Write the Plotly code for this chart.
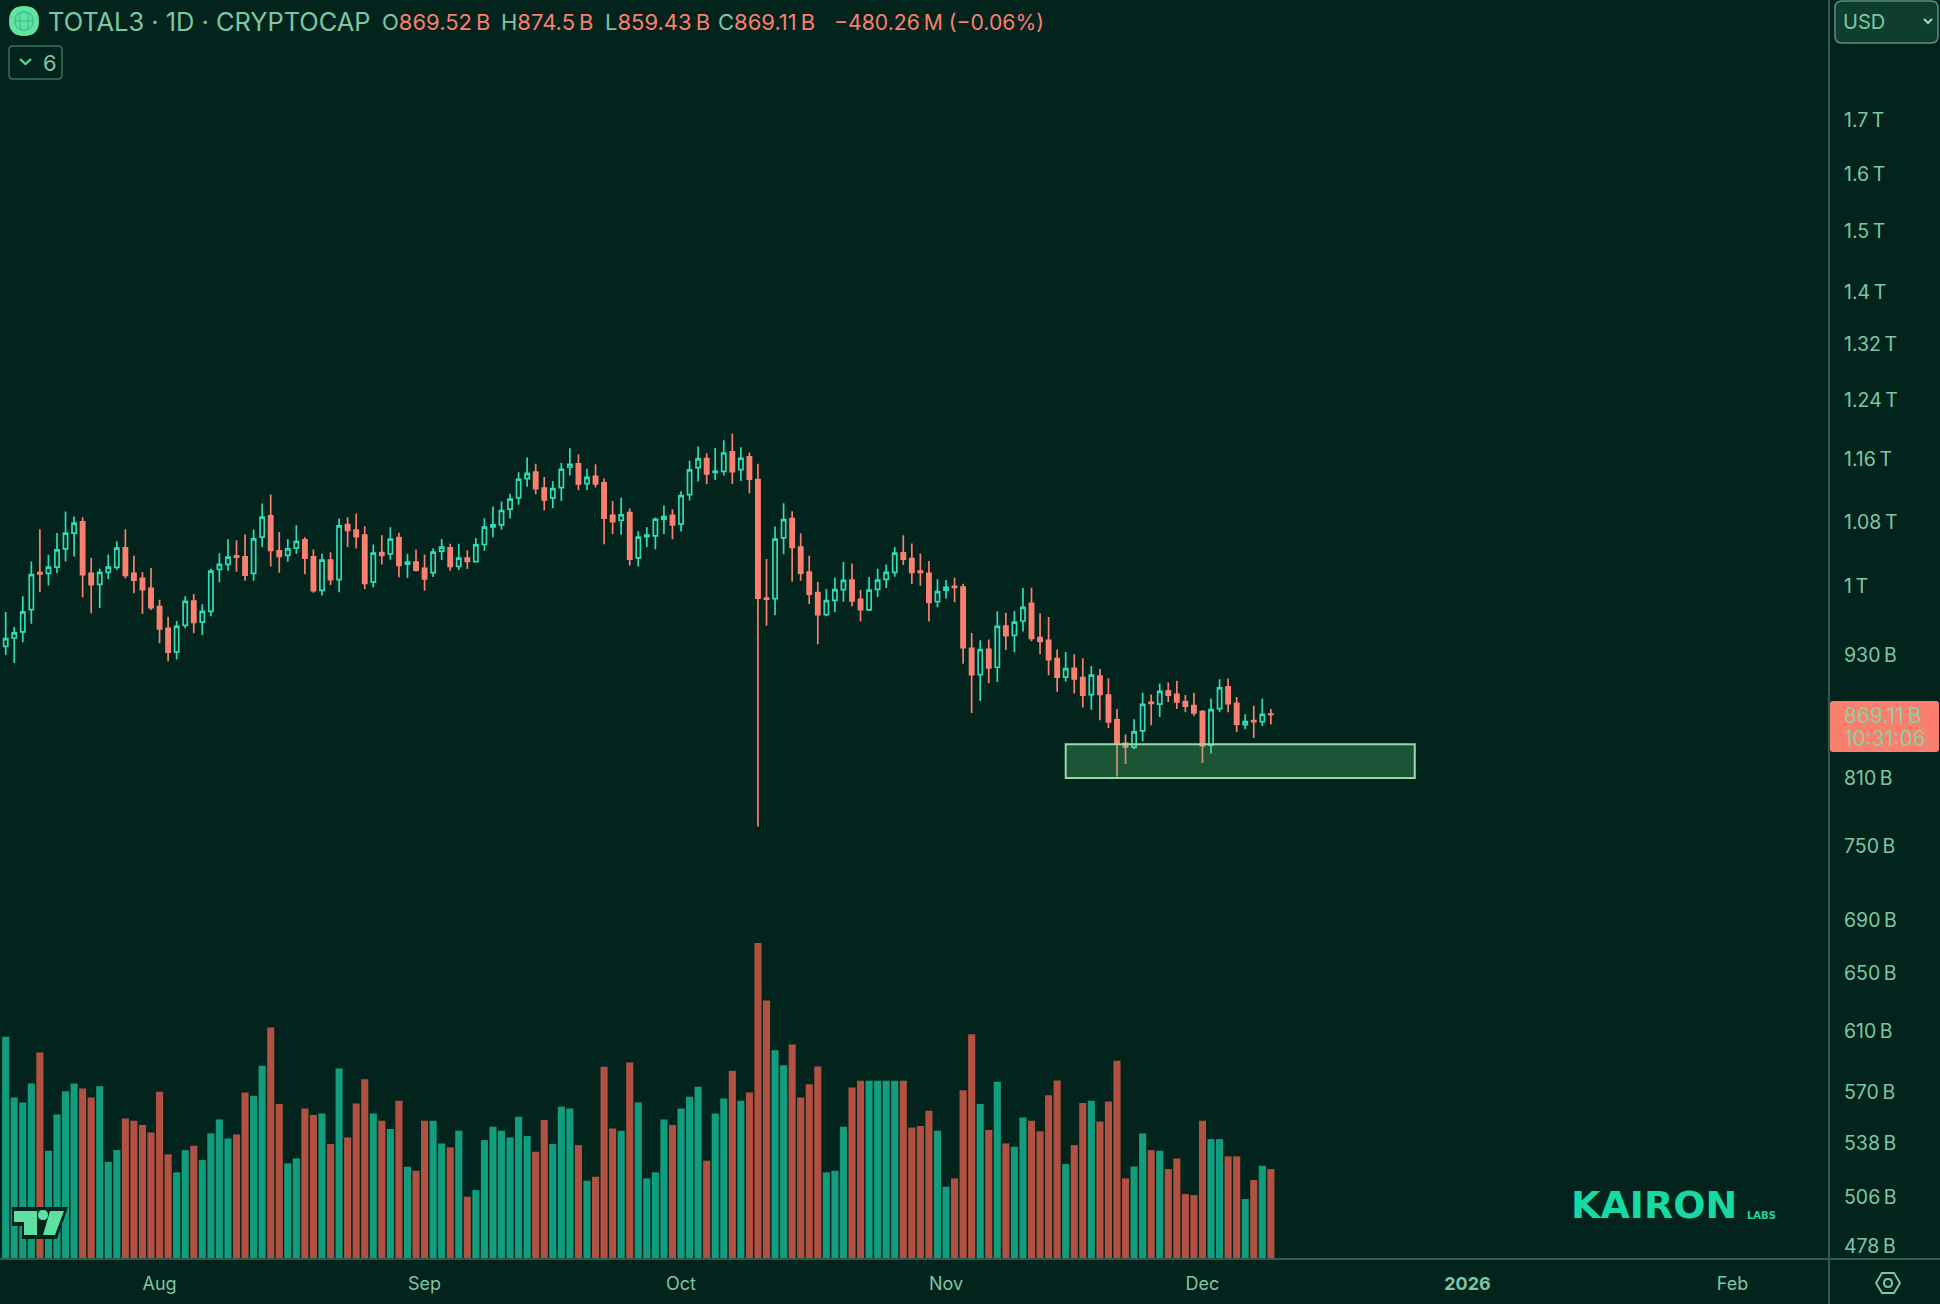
import pandas as pd
import plotly.graph_objects as go

# daily candles in billions USD
start_date = "2025-07-14"
open_b = [
    938.5, 947.3, 953.8, 978, 1019.6, 1018.8, 1026.1, 1047.4, 1066.1, 1079.7,
    1018.8, 1006.3, 1020, 1025.7, 1048.6, 1018.8, 1013.1, 1001.8, 981.4, 957.7,
    932.6, 960.9, 987.6, 964.5, 976.2, 1023.4, 1029.2, 1039.2, 1038, 1018.8,
    1061.2, 1087, 1045.1, 1039.6, 1048.2, 1058, 1038, 999.5, 1034.2, 1011.6,
    1076.5, 1069.7, 1063.6, 1008.9, 1043.1, 1041.5, 1060.8, 1029.6, 1031.9, 1024.5,
    1019.6, 1044.7, 1048.6, 1026.9, 1036.5, 1032.3, 1052.5, 1073.7, 1076.1, 1095.2,
    1109.3, 1133.6, 1142.1, 1121.7, 1109.3, 1122.2, 1148.2, 1152.6, 1127.2, 1136.6,
    1128.1, 1087.8, 1081.7, 1091.1, 1036.9, 1062, 1062.8, 1082.9, 1087.8, 1076.9,
    1113.4, 1147.7, 1159.4, 1141.7, 1143, 1168.2, 1145.1, 1161.6, 1132.4, 990.9,
    990.2, 1060.4, 1083.7, 1049.5, 1020.3, 996.9, 972.6, 988.3, 1000.3, 1011.2,
    989.5, 977.7, 1000.7, 1012, 1020, 1042.7, 1035.8, 1021.5, 1018.8, 986.9,
    999.9, 1004, 1003.3, 936.4, 909.1, 935.2, 916.6, 960.2, 950.2, 965.6,
    985, 947.7, 944.9, 925.6, 906.4, 915.6, 906.1, 888.7, 907.4, 888.3,
    863.8, 841.2, 837.7, 853.2, 881, 879.4, 892.5, 889, 881.7, 877.8,
    871.9, 839.6, 874.8, 896.6, 880, 859.3, 863.1, 862.2, 869.52,
]
high_b = [
    975.5, 959.1, 992.8, 1032.7, 1070.9, 1040.4, 1066.1, 1092.4, 1086.2, 1085.4,
    1036.9, 1024.2, 1040.8, 1056.5, 1070.9, 1039.2, 1020.3, 1024.9, 989.1, 970.3,
    965.6, 992.8, 995.4, 983.9, 1024.2, 1042.3, 1058.8, 1057.7, 1064.5, 1070.5,
    1102.2, 1113.4, 1067.3, 1058.8, 1075.7, 1061.2, 1046.6, 1041.5, 1043.5, 1083.7,
    1085.4, 1089.9, 1074.5, 1052.5, 1063.6, 1073.3, 1066.5, 1041.5, 1046.6, 1040.8,
    1048.2, 1059.2, 1053.3, 1053.3, 1045.8, 1060.4, 1084.2, 1098.5, 1104.7, 1114.3,
    1141.7, 1160.8, 1152.6, 1135.8, 1130.2, 1153.8, 1173, 1165.1, 1146.4, 1152.1,
    1133.6, 1105.5, 1109.3, 1096, 1068.5, 1073.3, 1085, 1099.7, 1095.2, 1117.6,
    1156.9, 1175.3, 1166.4, 1173.4, 1183.7, 1192.6, 1174.5, 1167.3, 1152.6, 1035.4,
    1074.1, 1102.6, 1092.8, 1065.7, 1039.2, 1008.9, 1001, 1013.9, 1031.9, 1030.3,
    999.9, 1014.6, 1024.2, 1029.2, 1049.5, 1063.6, 1053.7, 1041.9, 1033.1, 1012,
    1011.2, 1013.9, 1007, 952.7, 944.9, 945.6, 976.2, 974.7, 976.6, 1002.1,
    1002.5, 974, 970, 935.2, 932.6, 930.1, 926, 918, 914.9, 905.4,
    874.5, 849.7, 864.4, 890.7, 889, 899.9, 901, 902.7, 888.3, 890.7,
    873.5, 884.9, 904.4, 905.1, 886.5, 869.3, 877.8, 884.9, 874.5,
]
low_b = [
    929.4, 921.1, 942.8, 962.7, 997.3, 1005.1, 1019.2, 1032.7, 1038.4, 991.7,
    974, 979.9, 1012, 1023, 1013.1, 996.2, 973.3, 977.7, 941.7, 922.9,
    924.6, 957.7, 952.3, 950.5, 970.7, 1008.6, 1021.9, 1020.7, 1010.5, 1010.5,
    1049.5, 1026.9, 1019.6, 1032.3, 1041.5, 1017.7, 996.9, 993.9, 1005.5, 997.3,
    1049.5, 1047.8, 1000.7, 1002.9, 1029.2, 1034.6, 1014.3, 1013.5, 1021.1, 999.2,
    1014.6, 1034.2, 1021.9, 1022.6, 1023.8, 1031.5, 1045.2, 1061.2, 1070.1, 1083.7,
    1100.6, 1123.4, 1113.8, 1093.6, 1096.4, 1105.5, 1137.5, 1118.8, 1118.8, 1122.2,
    1052.9, 1064.9, 1064, 1028, 1026.9, 1049.5, 1047, 1064.9, 1058.8, 1068.1,
    1105.9, 1129.8, 1126.4, 1131.9, 1137.5, 1126.8, 1130.6, 1115, 766, 960.6,
    971.8, 1041.1, 1009.3, 1010.5, 984.3, 940.6, 970.7, 975.1, 986.9, 981.7,
    965.2, 976.6, 992.1, 1002.1, 1015, 1028.4, 1006.7, 1004.8, 965.2, 980.7,
    990.5, 986.1, 920.1, 870.6, 882.4, 900.3, 901.4, 934.7, 932.2, 954.2,
    943.8, 930.1, 908.5, 891.7, 902.1, 890, 876.1, 873.8, 863.4, 856.1,
    810.4, 822, 835.8, 843.4, 858.6, 866.7, 881.4, 874.5, 871.3, 867.7,
    822.9, 831.8, 871.6, 871.3, 852.2, 854.8, 846.5, 858, 859.43,
]
close_b = [
    946.6, 952.7, 975.5, 1017.3, 1018.1, 1026.1, 1046.2, 1066.1, 1078.1, 1017.3,
    1005.9, 1020, 1026.1, 1048.2, 1016.5, 1011.2, 1000.3, 980.3, 957, 932.2,
    959.8, 987.3, 964.1, 976.2, 1021.5, 1029.2, 1037.7, 1037.7, 1016.9, 1059.2,
    1085.4, 1045.5, 1038.4, 1047.4, 1056.1, 1036.5, 999.2, 1034.2, 1011.6, 1074.9,
    1069.3, 1062, 1007.4, 1042.3, 1039.6, 1058.8, 1028, 1031.9, 1022.6, 1012.4,
    1043.5, 1049.4, 1026.9, 1036.5, 1032.7, 1052.1, 1073.3, 1076.1, 1093.6, 1107.6,
    1132.8, 1140.4, 1120.9, 1106.8, 1120.9, 1145.6, 1152.1, 1126.8, 1135.3, 1126.8,
    1084.2, 1080.1, 1088.2, 1035.4, 1061.2, 1063.6, 1082.9, 1086.2, 1076.1, 1112.2,
    1144.7, 1159, 1139.6, 1143, 1166.8, 1142.6, 1159.9, 1132.8, 990.9, 989.8,
    1058.8, 1082.5, 1049, 1019.2, 995.4, 972.6, 988, 1000.3, 1010.8, 987.6,
    978, 999.9, 1011.2, 1020, 1042.3, 1035.4, 1020, 1020, 986.1, 998,
    1002.9, 1002.9, 937.1, 909.1, 934.9, 915.9, 959.8, 949.8, 964.5, 980.6,
    947, 943.8, 924.6, 906.4, 915.2, 904.7, 888.3, 908.5, 889, 861.8,
    840.6, 838, 852.2, 879, 880, 892.1, 888.3, 881.4, 877.4, 870.6,
    839, 873.8, 895.6, 879.7, 859.6, 862.2, 862.2, 869.3, 869.11,
]
volume_b = [
    66.7, 48.5, 47.0, 52.7, 62.0, 32.5, 43.4, 50.4, 52.7, 51.2,
    48.5, 51.9, 29.2, 32.7, 42.2, 41.5, 40.2, 38.0, 50.2, 31.4,
    26.0, 32.7, 34.0, 29.7, 37.7, 41.9, 36.2, 37.4, 50.0, 49.0,
    58.0, 69.5, 46.5, 28.7, 30.2, 45.2, 43.2, 43.7, 34.5, 57.2,
    36.5, 46.7, 54.0, 43.7, 41.5, 39.0, 47.5, 27.7, 26.5, 41.5,
    41.5, 34.7, 33.5, 38.5, 18.7, 20.7, 35.7, 39.7, 38.5, 36.5,
    42.7, 36.9, 32.2, 41.7, 34.5, 45.7, 45.2, 34.2, 23.5, 24.7,
    57.7, 39.2, 38.5, 59.0, 47.0, 24.2, 26.0, 41.9, 40.2, 45.2,
    48.7, 51.7, 29.5, 43.7, 48.2, 56.5, 47.5, 50.0, 94.9, 77.6,
    62.7, 58.2, 64.4, 48.5, 52.5, 57.8, 26.0, 26.5, 39.7, 51.5,
    53.5, 53.5, 53.5, 53.5, 53.5, 53.5, 39.5, 39.9, 44.5, 38.5,
    21.7, 24.2, 50.7, 67.5, 46.5, 38.7, 53.2, 34.7, 33.7, 42.5,
    41.5, 38.3, 49.2, 53.6, 28.5, 34.2, 46.8, 47.5, 41.3, 47.3,
    59.5, 24.2, 27.8, 37.7, 32.7, 32.5, 27.0, 30.2, 19.5, 19.2,
    41.5, 36.0, 36.0, 30.8, 30.8, 18.0, 23.7, 28.0, 27.0,
]

price_tick_vals = [1700, 1600, 1500, 1400, 1320, 1240, 1160, 1080, 1005, 930,
                   810, 750, 690, 650, 609, 568.5, 537, 505, 478]
price_tick_text = ["1.7\u2009T", "1.6\u2009T", "1.5\u2009T", "1.4\u2009T", "1.32\u2009T", "1.24\u2009T",
                   "1.16\u2009T", "1.08\u2009T", "1\u2009T", "930\u2009B", "810\u2009B", "750\u2009B",
                   "690\u2009B", "650\u2009B", "610\u2009B", "570\u2009B", "538\u2009B", "506\u2009B",
                   "478\u2009B"]
month_tick_vals = ["2025-08-01", "2025-09-01", "2025-10-01", "2025-11-01",
                   "2025-12-01", "2026-01-01", "2026-02-01"]
month_tick_text = ["Aug", "Sep", "Oct", "Nov", "Dec", "<b>2026</b>", "Feb"]

# support zone drawn on the chart
zone_dates = ["2025-11-15", "2025-12-25 20:00"]
zone_prices = [809.2, 840.4]

BG = "#02241c"
UP = "#2fdcb6"
DOWN = "#fb7f6f"
VOL_UP = "#129e7e"
VOL_DOWN = "#b25141"
LABEL = "#7fc6a4"
RULE = "#2f5a50"
LOGO = "#17d9a3"
FONT = "Inter, Roboto, sans-serif"

PLOT_W = 1829
PLOT_H = 1259


def px(x):
    return x / PLOT_W


def py(y):
    return 1 - y / PLOT_H


def rect_path(x0, y0, x1, y1, r):
    return (
        f"M {px(x0 + r)} {py(y0)} L {px(x1 - r)} {py(y0)} Q {px(x1)} {py(y0)} {px(x1)} {py(y0 + r)} "
        f"L {px(x1)} {py(y1 - r)} Q {px(x1)} {py(y1)} {px(x1 - r)} {py(y1)} "
        f"L {px(x0 + r)} {py(y1)} Q {px(x0)} {py(y1)} {px(x0)} {py(y1 - r)} "
        f"L {px(x0)} {py(y0 + r)} Q {px(x0)} {py(y0)} {px(x0 + r)} {py(y0)} Z"
    )


def poly_path(points, closed=True):
    return "M " + " L ".join(f"{px(x)} {py(y)}" for x, y in points) + (" Z" if closed else "")


def paper_path(path, fill="rgba(0,0,0,0)", line="rgba(0,0,0,0)", width=1):
    return dict(type="path", xref="paper", yref="paper", path=path, fillcolor=fill,
                line=dict(color=line, width=width), layer="above")


def paper_text(x, y, text, size, color=LABEL, family=FONT, weight=None):
    return dict(xref="paper", yref="paper", x=px(x), y=py(y), text=text, showarrow=False,
                xanchor="left", yanchor="middle", align="left",
                font=dict(family=family, size=size, color=color, weight=weight))


def ohlc_text(letter, value):
    return f"{letter}<span style='color:{DOWN}'>{value}</span>"


dates = pd.date_range(start_date, periods=len(open_b), freq="D")
vol_colors = [VOL_UP if c >= o else VOL_DOWN for o, c in zip(open_b, close_b)]

fig = go.Figure()
fig.add_trace(go.Bar(x=dates, y=volume_b, yaxis="y2", marker_color=vol_colors,
                     marker_line_width=0, showlegend=False))
fig.add_trace(go.Candlestick(
    x=dates, open=open_b, high=high_b, low=low_b, close=close_b, showlegend=False,
    whiskerwidth=0,
    increasing=dict(line=dict(color=UP, width=1.7), fillcolor=BG),
    decreasing=dict(line=dict(color=DOWN, width=1.7), fillcolor=DOWN),
))

shapes = [
    dict(type="rect", xref="x", yref="y", x0=zone_dates[0], x1=zone_dates[1],
         y0=zone_prices[0], y1=zone_prices[1], fillcolor="rgba(88,200,117,0.3)",
         line=dict(color="#9bd8a8", width=2), layer="above"),
    # scale borders
    dict(type="line", xref="paper", yref="paper", x0=1, x1=1, y0=py(1304), y1=1,
         line=dict(color=RULE, width=2), layer="above"),
    dict(type="line", xref="paper", yref="paper", x0=0, x1=px(1940), y0=0, y1=0,
         line=dict(color=RULE, width=2), layer="above"),
    # symbol icon with its globe lines
    paper_path(rect_path(9, 6, 39, 36, 15), fill="#62e49f"),
    paper_path(rect_path(15, 12, 33, 30, 9), line="#3fc49a", width=1.5),
    paper_path(rect_path(20, 12, 28, 30, 4), line="#3fc49a", width=1.5),
    paper_path(poly_path([(15, 21), (33, 21)], closed=False), line="#3fc49a", width=1.5),
    # collapse button
    paper_path(rect_path(9, 46, 62, 79, 4), line="#3f6d5e", width=1.5),
    paper_path(poly_path([(20, 59), (25.5, 64), (31, 59)], closed=False), line="#62dca0", width=2.2),
    # currency button
    paper_path(rect_path(1835, 1, 1938, 43, 7), fill="#0f3d30", line="#5f8f7c", width=1.5),
    paper_path(poly_path([(1924, 19), (1928, 23), (1932, 19)], closed=False), line="#8fe0b0", width=2.2),
    # last price tag
    paper_path(rect_path(1830, 701, 1939, 752, 3), fill=DOWN),
    # settings hexagon
    paper_path(poly_path([(1876, 1283), (1882, 1273), (1894, 1273), (1900, 1283), (1894, 1293), (1882, 1293)]),
               line=LABEL, width=2),
    paper_path(rect_path(1884, 1279, 1892, 1287, 4), line=LABEL, width=2),
    # TradingView mark
    paper_path(poly_path([(12, 1207), (68, 1207), (57, 1239), (22, 1239), (22, 1226), (12, 1226)]), fill=BG),
    paper_path(poly_path([(14, 1211), (37, 1211), (37, 1235), (24, 1235), (24, 1222), (14, 1222)]), fill="#5fe0a0"),
    paper_path(rect_path(38, 1210, 48, 1220, 5), fill="#5fe0a0"),
    paper_path(poly_path([(50, 1211), (64, 1211), (55, 1235), (43, 1235)]), fill="#5fe0a0"),
]

annotations = [
    paper_text(46, 22, "TOTAL3 · 1D · CRYPTOCAP", 25.4),
    paper_text(380, 22, ohlc_text("O", "869.52\u2009B"), 22),
    paper_text(499, 22, ohlc_text("H", "874.5\u2009B"), 22),
    paper_text(603, 22, ohlc_text("L", "859.43\u2009B"), 22),
    paper_text(716, 22, ohlc_text("C", "869.11\u2009B"), 22),
    paper_text(832, 22, "−480.26\u2009M (−0.06%)", 21.2, color=DOWN),
    paper_text(41, 63, "6", 22),
    paper_text(1841, 22, "USD", 20),
    paper_text(1842, 715, "869.11\u2009B", 21, color="#8ccf9f"),
    paper_text(1842, 738, "10:31:06", 21, color="#8ccf9f"),
    paper_text(1569, 1205, "KAIRON", 38, color=LOGO, family="DejaVu Sans", weight=700),
    paper_text(1745, 1215, "LABS", 10, color=LOGO, family="DejaVu Sans", weight=700),
]

fig.update_layout(
    width=1940, height=1304,
    margin=dict(l=0, r=1940 - PLOT_W, t=0, b=1304 - PLOT_H, pad=0),
    paper_bgcolor=BG, plot_bgcolor=BG,
    font=dict(family=FONT, color=LABEL),
    bargap=0.17, showlegend=False,
    shapes=shapes, annotations=annotations,
    xaxis=dict(
        type="date", range=["2025-07-13 08:00", "2026-02-12 07:00"],
        rangeslider=dict(visible=False), showgrid=False, zeroline=False,
        tickmode="array", tickvals=month_tick_vals, ticktext=month_tick_text,
        ticks="", ticklabelstandoff=12, tickfont=dict(size=18, color=LABEL),
    ),
    yaxis=dict(
        type="log", range=[2.6727, 3.2886], side="right", showgrid=False, zeroline=False,
        tickmode="array", tickvals=price_tick_vals, ticktext=price_tick_text,
        ticks="", ticklabelstandoff=14, ticklabelshift=1, tickfont=dict(size=19.5, color=LABEL),
    ),
    yaxis2=dict(overlaying="y", range=[0, 378], visible=False, fixedrange=True),
)

fig.write_html("out.html", config=dict(displayModeBar=False),
               post_script="document.body.style.margin='0';")
